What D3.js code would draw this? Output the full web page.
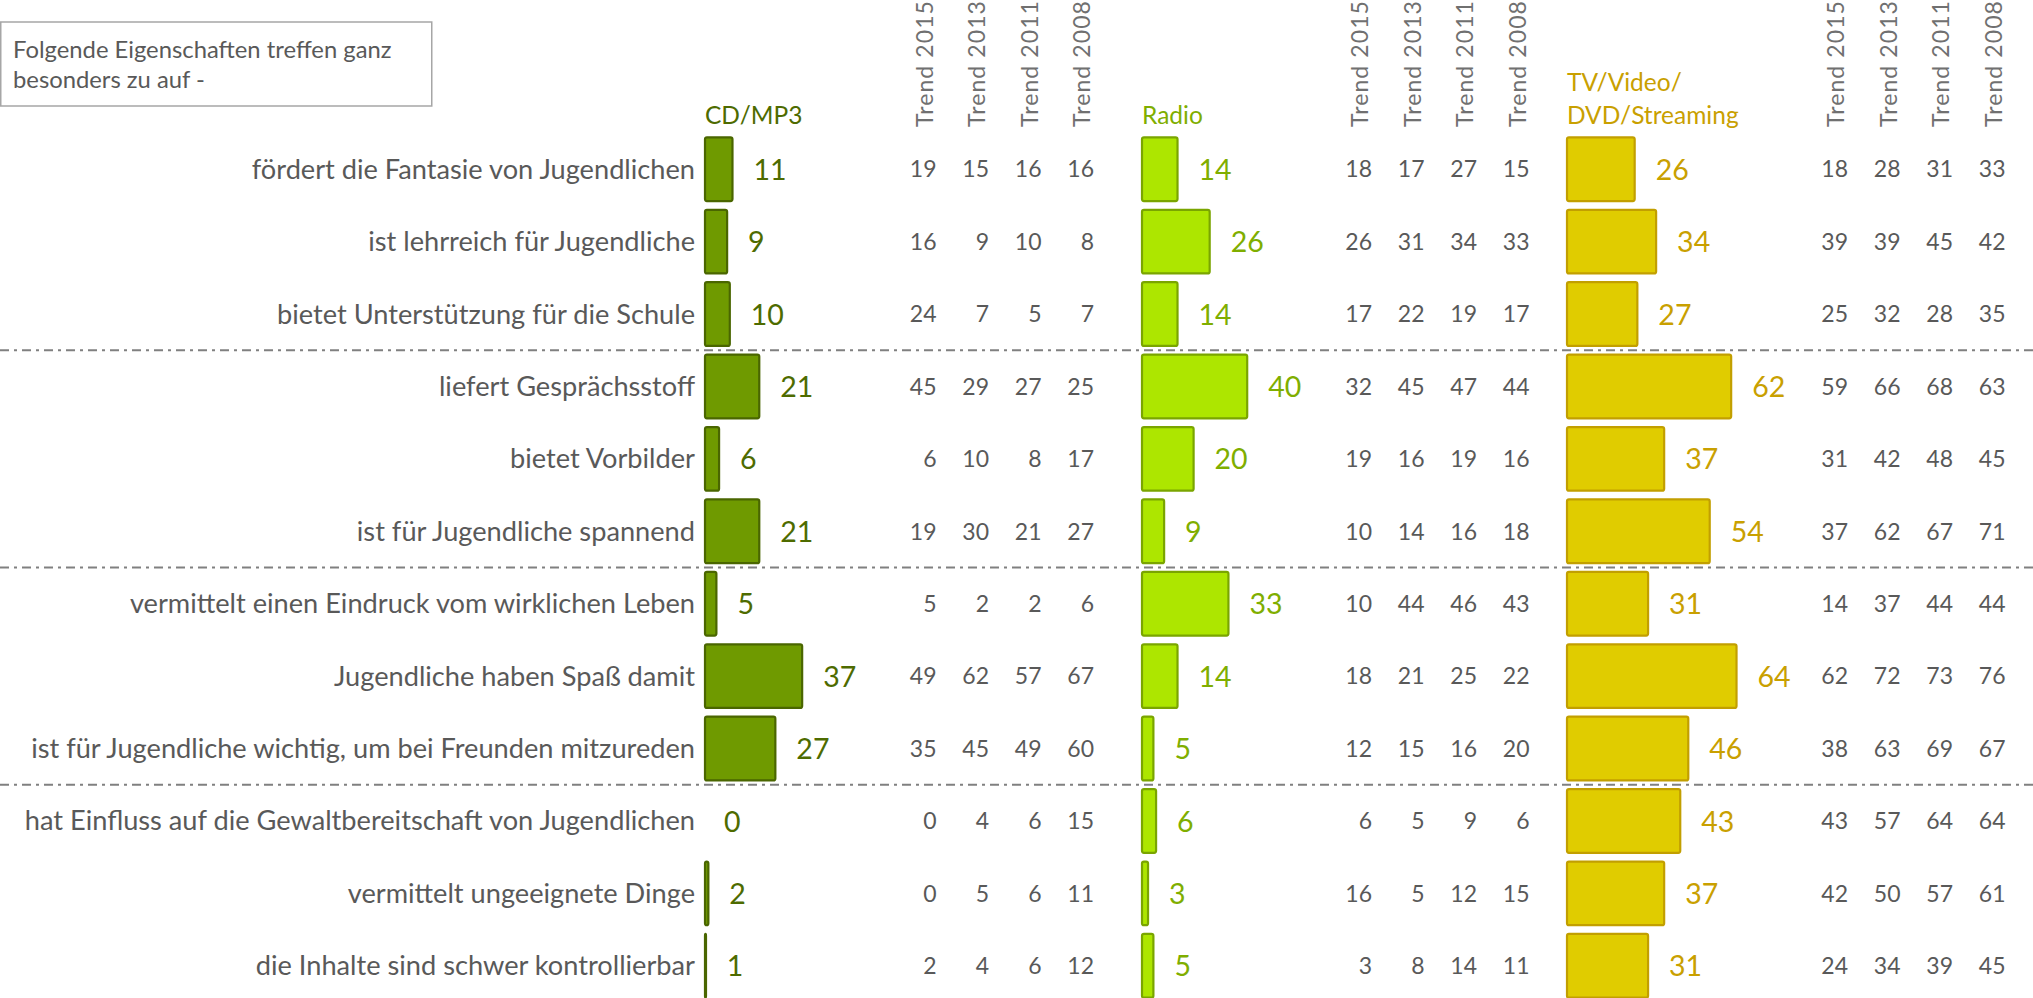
<!DOCTYPE html>
<html>
<head>
<meta charset="utf-8">
<script src="https://cdn.jsdelivr.net/npm/d3@7"></script>
<style>
  body { margin: 0; background: #fff; }
  svg { display: block; font-family: Lato, "Open Sans", sans-serif; }
</style>
</head>
<body>
<svg width="2033" height="998"></svg>
<script>
// Daten
const categories = [
  "fördert die Fantasie von Jugendlichen",
  "ist lehrreich für Jugendliche",
  "bietet Unterstützung für die Schule",
  "liefert Gesprächsstoff",
  "bietet Vorbilder",
  "ist für Jugendliche spannend",
  "vermittelt einen Eindruck vom wirklichen Leben",
  "Jugendliche haben Spaß damit",
  "ist für Jugendliche wichtig, um bei Freunden mitzureden",
  "hat Einfluss auf die Gewaltbereitschaft von Jugendlichen",
  "vermittelt ungeeignete Dinge",
  "die Inhalte sind schwer kontrollierbar"
];
const trendYears = ["Trend 2015", "Trend 2013", "Trend 2011", "Trend 2008"];

const cdValues = [11, 9, 10, 21, 6, 21, 5, 37, 27, 0, 2, 1];
const cdTrends = [
  [19, 15, 16, 16], [16, 9, 10, 8], [24, 7, 5, 7], [45, 29, 27, 25],
  [6, 10, 8, 17], [19, 30, 21, 27], [5, 2, 2, 6], [49, 62, 57, 67],
  [35, 45, 49, 60], [0, 4, 6, 15], [0, 5, 6, 11], [2, 4, 6, 12]
];
const radioValues = [14, 26, 14, 40, 20, 9, 33, 14, 5, 6, 3, 5];
const radioTrends = [
  [18, 17, 27, 15], [26, 31, 34, 33], [17, 22, 19, 17], [32, 45, 47, 44],
  [19, 16, 19, 16], [10, 14, 16, 18], [10, 44, 46, 43], [18, 21, 25, 22],
  [12, 15, 16, 20], [6, 5, 9, 6], [16, 5, 12, 15], [3, 8, 14, 11]
];
const tvValues = [26, 34, 27, 62, 37, 54, 31, 64, 46, 43, 37, 31];
const tvTrends = [
  [18, 28, 31, 33], [39, 39, 45, 42], [25, 32, 28, 35], [59, 66, 68, 63],
  [31, 42, 48, 45], [37, 62, 67, 71], [14, 37, 44, 44], [62, 72, 73, 76],
  [38, 63, 69, 67], [43, 57, 64, 64], [42, 50, 57, 61], [24, 34, 39, 45]
];
const groupBreaks = [3, 6, 9]; // Trennlinie vor diesen Zeilen

// Layout
const svg = d3.select("svg");
const width = 2033;
const grey = "#595959";

const groups = [
  { title: ["CD/MP3"], values: cdValues, trends: cdTrends, x0: 704, trendX: 924.5,
    fill: "#6f9a00", stroke: "#4a6600", label: "#4e6b00" },
  { title: ["Radio"], values: radioValues, trends: radioTrends, x0: 1141, trendX: 1360,
    fill: "#ade600", stroke: "#7aa500", label: "#7fae00" },
  { title: ["TV/Video/", "DVD/Streaming"], values: tvValues, trends: tvTrends, x0: 1566, trendX: 1836,
    fill: "#e0cc00", stroke: "#c29f00", label: "#c9a000" }
];

const y = d3.scaleBand()
  .domain(categories)
  .range([133, 1002])
  .paddingInner(0.093)
  .paddingOuter(0.0465);
const x = d3.scaleLinear().domain([0, 100]).range([0, 268]);
const trendCol = d3.scalePoint().domain(trendYears).range([0, 157.5]);

// Kasten oben links
svg.append("rect")
  .attr("x", 0.75).attr("y", 22)
  .attr("width", 431).attr("height", 84)
  .attr("fill", "#fff")
  .attr("stroke", "#a6a6a6")
  .attr("stroke-width", 1.5);
svg.append("text")
  .attr("x", 13).attr("y", 58)
  .attr("font-size", 23.8).attr("fill", grey)
  .selectAll("tspan")
  .data(["Folgende Eigenschaften treffen ganz", "besonders zu auf -"])
  .join("tspan")
  .attr("x", 13)
  .attr("dy", (d, i) => (i === 0 ? 0 : 30))
  .text((d) => d);

// Trennlinien
const gap = y.step() * y.paddingInner();
svg.append("g")
  .selectAll("line")
  .data(groupBreaks)
  .join("line")
  .attr("x1", 0).attr("x2", width)
  .attr("y1", (i) => y(categories[i]) - gap / 2)
  .attr("y2", (i) => y(categories[i]) - gap / 2)
  .attr("stroke", "#808080")
  .attr("stroke-width", 2)
  .attr("stroke-dasharray", "9,5,3,5");

// Kategorien
svg.append("g")
  .selectAll("text")
  .data(categories)
  .join("text")
  .attr("x", 695)
  .attr("y", (d) => y(d) + y.bandwidth() / 2)
  .attr("dy", "0.35em")
  .attr("text-anchor", "end")
  .attr("font-size", 27.2)
  .attr("fill", grey)
  .text((d) => d);

groups.forEach((g) => {
  const layer = svg.append("g");

  // Titel
  layer.append("text")
    .attr("fill", g.label)
    .attr("font-size", 24.5)
    .selectAll("tspan")
    .data(g.title)
    .join("tspan")
    .attr("x", g.x0 + 1)
    .attr("y", (d, i) => 124 - (g.title.length - 1 - i) * 33)
    .text((d) => d);

  // Trend-Überschriften
  layer.append("g")
    .selectAll("text")
    .data(trendYears)
    .join("text")
    .attr("transform", (d) => `translate(${g.trendX + trendCol(d) + 8},127) rotate(-90)`)
    .attr("font-size", 23)
    .attr("letter-spacing", 1.1)
    .attr("fill", "#707070")
    .text((d) => d);

  // Balken
  layer.append("g")
    .selectAll("rect")
    .data(g.values.map((v, i) => ({ v, cat: categories[i] })).filter((d) => d.v > 0))
    .join("rect")
    .attr("x", g.x0 + 1)
    .attr("y", (d) => y(d.cat) + 1)
    .attr("width", (d) => Math.max(x(d.v) - 2, 1))
    .attr("height", y.bandwidth() - 2)
    .attr("rx", 2)
    .attr("fill", g.fill)
    .attr("stroke", g.stroke)
    .attr("stroke-width", 2.2);

  // Werte
  layer.append("g")
    .selectAll("text")
    .data(g.values)
    .join("text")
    .attr("x", (d) => g.x0 + x(d) + 20)
    .attr("y", (d, i) => y(categories[i]) + y.bandwidth() / 2)
    .attr("dy", "0.37em")
    .attr("font-size", 28.5)
    .attr("fill", g.label)
    .text((d) => d);

  // Trendwerte
  g.trends.forEach((row, i) => {
    layer.append("g")
      .selectAll("text")
      .data(row)
      .join("text")
      .attr("x", (d, j) => g.trendX + trendCol(trendYears[j]) + 12)
      .attr("y", y(categories[i]) + y.bandwidth() / 2)
      .attr("dy", "0.36em")
      .attr("text-anchor", "end")
      .attr("font-size", 23)
      .attr("fill", grey)
      .text((d) => d);
  });
});
</script>
</body>
</html>
